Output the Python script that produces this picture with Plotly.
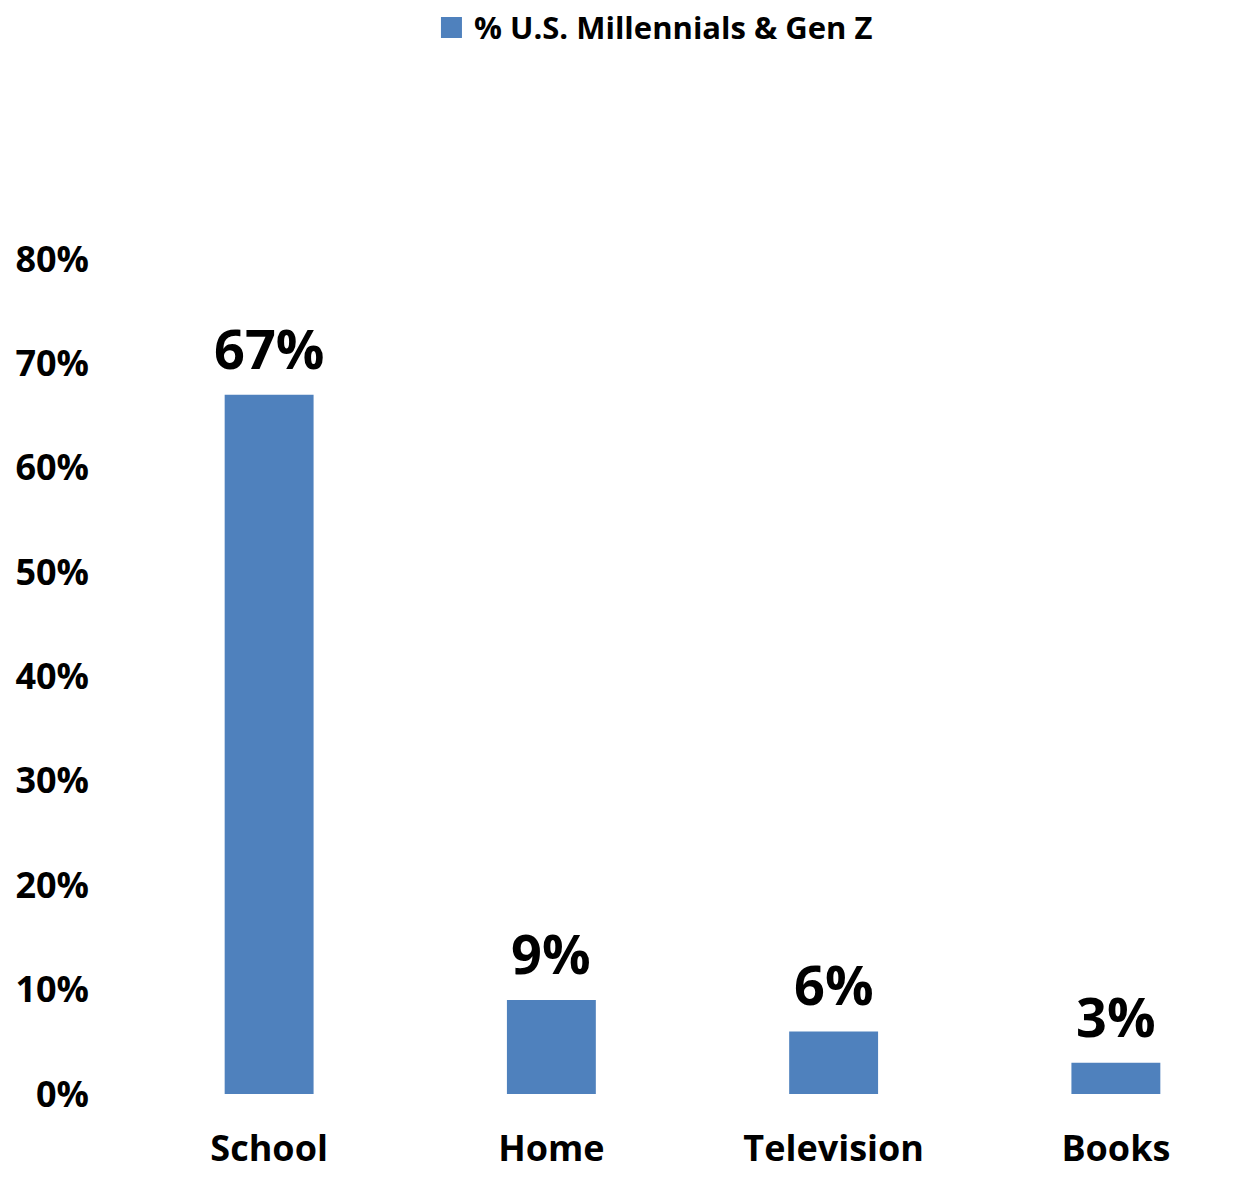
import plotly.graph_objects as go

categories = ["School", "Home", "Television", "Books"]
values = [67, 9, 6, 3]
series_name = "% U.S. Millennials & Gen Z"
y_ticks = [0, 10, 20, 30, 40, 50, 60, 70, 80]
y_tick_labels = [f"{v}%" for v in y_ticks]

BLUE = "#4F81BD"
FONT = "Open Sans"

fig = go.Figure()
fig.add_trace(go.Bar(
    x=categories, y=values, marker=dict(color=BLUE, line=dict(width=0)),
    showlegend=False, name=series_name,
))

for c, v in zip(categories, values):
    fig.add_annotation(
        x=c, y=v, text=f"<b>{v}%</b>", showarrow=False,
        yanchor="bottom", yshift=8,
        font=dict(family=FONT, size=54, color="black"),
    )

# legend: swatch + series name
fig.add_shape(
    type="rect", xref="paper", yref="paper",
    x0=0.2772, x1=0.2958, y0=1.2647, y1=1.2898,
    fillcolor=BLUE, line=dict(width=0),
)
fig.add_annotation(
    xref="paper", yref="paper", x=0.3047, y=1.2778,
    xanchor="left", yanchor="middle", showarrow=False,
    text=f"<b>{series_name}</b>",
    font=dict(family=FONT, size=31, color="black"),
)

fig.update_layout(
    width=1257, height=1184,
    margin=dict(l=128, r=0, t=259, b=90),
    paper_bgcolor="white", plot_bgcolor="white",
    bargap=0.685,
    showlegend=False,
    font=dict(family=FONT, color="black"),
)
fig.update_xaxes(
    showgrid=False, showline=False, ticks="",
    tickfont=dict(family=FONT, size=36, color="black", weight="bold"),
    ticklabelstandoff=30,
)
fig.update_yaxes(
    range=[0, 80], tickvals=y_ticks, ticktext=y_tick_labels,
    showgrid=False, showline=False, zeroline=False, ticks="",
    tickfont=dict(family=FONT, size=36, color="black", weight="bold"),
    ticklabelstandoff=38,
)

fig.write_html("out.html")
